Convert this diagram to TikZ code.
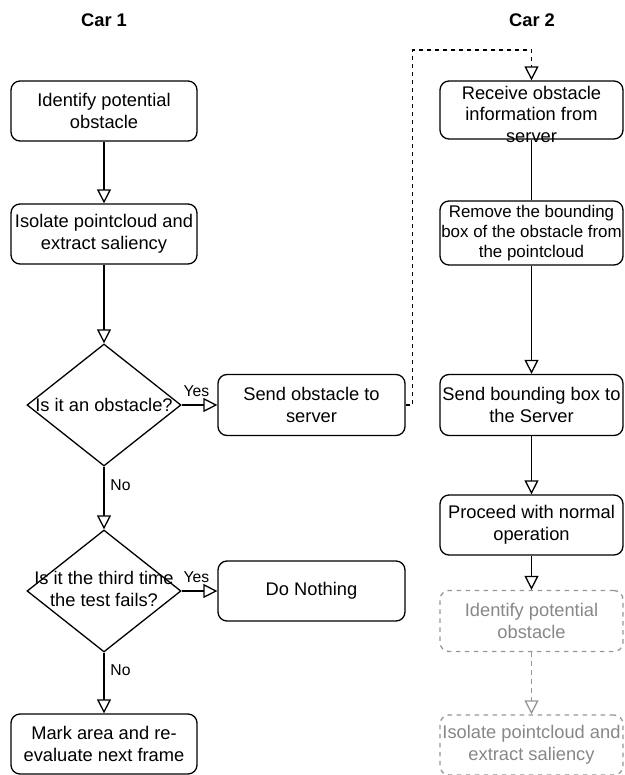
\documentclass[tikz,border=0pt]{standalone}
\usepackage{fontspec}
\setmainfont{Liberation Sans}
\usetikzlibrary{arrows.meta,shapes.geometric}
\definecolor{ghost}{RGB}{150,150,150}
\definecolor{ghosttext}{RGB}{135,135,135}
\tikzset{
  mainfont/.style={font=\fontsize{18.3}{21.5}\selectfont},
  procbox/.style={draw, line width=1.3pt, rounded corners=9pt, inner sep=0pt, align=center, mainfont},
  ghostbox/.style={procbox, draw=ghost, text=ghosttext, dash pattern=on 4.5pt off 4.5pt},
  decision/.style={draw, line width=1.3pt, diamond, inner sep=0pt, minimum width=154pt, minimum height=122pt},
  plain/.style={align=center, inner sep=0pt, mainfont},
  lbl/.style={inner sep=0pt, font=\fontsize{15.7}{18}\selectfont},
  head/.style={inner sep=0pt, font=\fontsize{18.3}{21.5}\selectfont\bfseries},
  flow/.style={line width=1.3pt, -{Triangle[open, length=14pt, width=14pt]}},
  dflow/.style={flow, dash pattern=on 4pt off 4pt},
  gflow/.style={flow, draw=ghost, dash pattern=on 4.5pt off 4.5pt},
}
\begin{document}
\begin{tikzpicture}[x=1pt, y=-1pt]
\useasboundingbox (0,0) rectangle (624,775);

\node[head] (car1) at (104,20) {Car 1};
\node[head] (car2) at (532,20) {Car 2};

% Car 1 column
\node[procbox, minimum width=186pt, minimum height=60pt] (b1) at (104,111) {Identify potential\\obstacle};
\node[procbox, minimum width=186pt, minimum height=60pt] (b2) at (104,234) {Isolate pointcloud and\\extract saliency};
\node[decision] (d1) at (104,405) {};
\node[plain] (d1t) at (104,405) {Is it an obstacle?};
\node[procbox, minimum width=187pt, minimum height=61pt] (b3) at (311.5,405) {Send obstacle to\\server};
\node[decision] (d2) at (104,591) {};
\node[plain] (d2t) at (104,589) {Is it the third time\\the test fails?};
\node[procbox, minimum width=187pt, minimum height=60pt] (b10) at (311.5,591) {Do Nothing};
\node[procbox, minimum width=186pt, minimum height=60pt] (b11) at (104,744) {Mark area and re-\\evaluate next frame};

% Car 2 column
\node[procbox, minimum width=183pt, minimum height=58pt] (b4) at (531.5,110) {};
\node[plain] (b4t) at (531.5,114) {Receive obstacle\\information from\\server};
\node[procbox, minimum width=183pt, minimum height=64pt, font=\fontsize{16.9}{20}\selectfont] (b5) at (531.5,233) {Remove the bounding\\box of the obstacle from\\the pointcloud};
\node[procbox, minimum width=183pt, minimum height=61pt] (b6) at (531.5,405) {Send bounding box to\\the Server};
\node[procbox, minimum width=183pt, minimum height=60pt] (b7) at (531.5,525) {Proceed with normal\\operation};
\node[ghostbox, minimum width=183pt, minimum height=61pt] (b8) at (531.5,621) {Identify potential\\obstacle};
\node[ghostbox, minimum width=183pt, minimum height=60pt] (b9) at (531.5,745) {Isolate pointcloud and\\extract saliency};

% connectors Car 1
\draw[flow] (b1) -- (b2);
\draw[flow] (b2) -- (d1.north);
\draw[flow] (d1.east) -- (b3.west);
\draw[flow] (d1.south) -- (d2.north);
\draw[flow] (d2.east) -- (b10.west);
\draw[flow] (d2.south) -- (b11.north);

\node[lbl] (y1) at (196.5,391) {Yes};
\node[lbl] (n1) at (120.5,485) {No};
\node[lbl] (y2) at (196.5,577) {Yes};
\node[lbl] (n2) at (120.5,670) {No};

% dashed link to Car 2
\coordinate (c1) at (412.5,50);
\draw[dflow] (b3.east) -| (c1) -| (b4.north);

% connectors Car 2
\draw[line width=1.3pt] (b4) -- (b5);
\draw[flow] (b5) -- (b6);
\draw[flow] (b6) -- (b7);
\draw[flow] (b7) -- (b8);
\draw[gflow] (b8) -- (b9);
\end{tikzpicture}
\end{document}
